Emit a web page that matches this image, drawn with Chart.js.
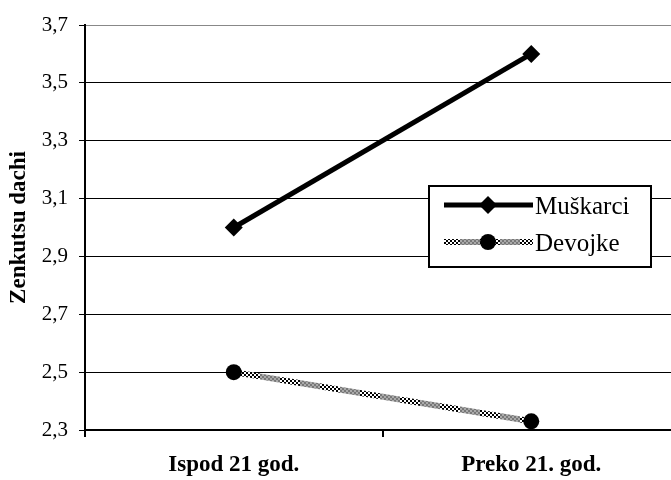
<!DOCTYPE html>
<html>
<head>
<meta charset="utf-8">
<script src="https://cdn.jsdelivr.net/npm/chart.js@4"></script>
<style>
  html, body { margin: 0; padding: 0; background: #fff; overflow: hidden; }
</style>
</head>
<body>
<canvas id="stanceChart" width="671" height="480"></canvas>
<script>
const categories = ["Ispod 21 god.", "Preko 21. god."];
const muskarci = [3.0, 3.6];
const devojke = [2.5, 2.33];
const seriesNames = ["Muškarci", "Devojke"];
const yTicks = [2.3, 2.5, 2.7, 2.9, 3.1, 3.3, 3.5, 3.7];

const serif = "'Liberation Serif', 'Times New Roman', serif";

// checkered stroke used for the second series
function makeHatch(ctx) {
    const tile = document.createElement('canvas');
    tile.width = 40;
    tile.height = 40;
    const t = tile.getContext('2d');
    for (let x = 0; x < 40; x += 2) {
        for (let y = 0; y < 40; y += 2) {
            const odd = ((x + y) / 2) % 2 === 1;
            if (x < 20) t.fillStyle = odd ? '#000' : '#fff';
            else t.fillStyle = odd ? '#777' : '#aaa';
            t.fillRect(x, y, 2, 2);
        }
    }
    return ctx.createPattern(tile, 'repeat');
}

const ctx = document.getElementById('stanceChart').getContext('2d');
const hatch = makeHatch(ctx);

// let the plot area run a few pixels past the right edge of the canvas
const widenPlot = {
    id: 'widenPlot',
    afterLayout(chart) {
        const right = 680;
        const x = chart.scales.x;
        chart.chartArea.right = right;
        chart.chartArea.width = right - chart.chartArea.left;
        x.right = right;
        x.width = right - x.left;
        x.configure();
    }
};

const boxLegend = {
    id: 'boxLegend',
    afterDraw(chart) {
        const c = chart.ctx;
        const x0 = 429, y0 = 186, w = 222, h = 81;
        c.save();
        c.fillStyle = '#fff';
        c.fillRect(x0, y0, w, h);
        c.lineWidth = 2;
        c.strokeStyle = '#000';
        c.strokeRect(x0, y0, w, h);
        const rows = [
            { y: 205, stroke: '#000', style: 'rectRot', r: 9 },
            { y: 242, stroke: hatch, style: 'circle', r: 8 }
        ];
        rows.forEach((row, i) => {
            c.beginPath();
            c.lineWidth = i === 0 ? 5 : 6;
            c.strokeStyle = row.stroke;
            c.moveTo(444, row.y);
            c.lineTo(533, row.y);
            c.stroke();
            c.fillStyle = '#000';
            Chart.helpers.drawPoint(c, { pointStyle: row.style, radius: row.r, rotation: 0, borderWidth: 0 }, 488, row.y);
            c.fillStyle = '#000';
            c.font = '25px ' + serif;
            c.textBaseline = 'middle';
            c.fillText(seriesNames[i], 535, row.y + 2);
        });
        c.restore();
    }
};

new Chart(ctx, {
    type: 'line',
    data: {
        labels: categories,
        datasets: [
            {
                label: seriesNames[0],
                data: muskarci,
                borderColor: '#000',
                borderWidth: 5,
                backgroundColor: '#000',
                pointStyle: 'rectRot',
                pointRadius: 9,
                pointBorderWidth: 0,
                tension: 0
            },
            {
                label: seriesNames[1],
                data: devojke,
                borderColor: hatch,
                borderWidth: 6,
                backgroundColor: '#000',
                pointStyle: 'circle',
                pointRadius: 8,
                pointBorderWidth: 0,
                tension: 0
            }
        ]
    },
    options: {
        responsive: false,
        animation: false,
        layout: { padding: { left: 0, top: 25, right: 0, bottom: 0 } },
        plugins: {
            legend: { display: false },
            tooltip: { enabled: false }
        },
        scales: {
            x: {
                offset: true,
                afterFit: (s) => { s.height = 50; },
                grid: {
                    offset: true,
                    drawOnChartArea: false,
                    color: '#000',
                    lineWidth: 2,
                    tickLength: 7
                },
                border: { display: true, color: '#000', width: 2 },
                ticks: {
                    color: '#000',
                    padding: 14,
                    font: { family: serif, size: 23, weight: 'bold' }
                }
            },
            y: {
                min: 2.3,
                max: 3.7,
                afterFit: (s) => { s.width = 85; },
                afterBuildTicks: (s) => { s.ticks = yTicks.map(v => ({ value: v })); },
                grid: {
                    color: (c) => c.tick && c.tick.value >= 3.69 ? '#888' : '#000',
                    lineWidth: 1,
                    tickLength: 6,
                    tickColor: '#000'
                },
                border: { display: true, color: '#000', width: 2 },
                ticks: {
                    color: '#000',
                    padding: 11,
                    font: { family: serif, size: 21 },
                    callback: (v) => Number(v).toFixed(1).replace('.', ',')
                },
                title: {
                    display: true,
                    text: 'Zenkutsu dachi',
                    color: '#000',
                    padding: { top: 5, bottom: 0 },
                    font: { family: serif, size: 23, weight: 'bold' }
                }
            }
        }
    },
    plugins: [widenPlot, boxLegend]
});
</script>
</body>
</html>
